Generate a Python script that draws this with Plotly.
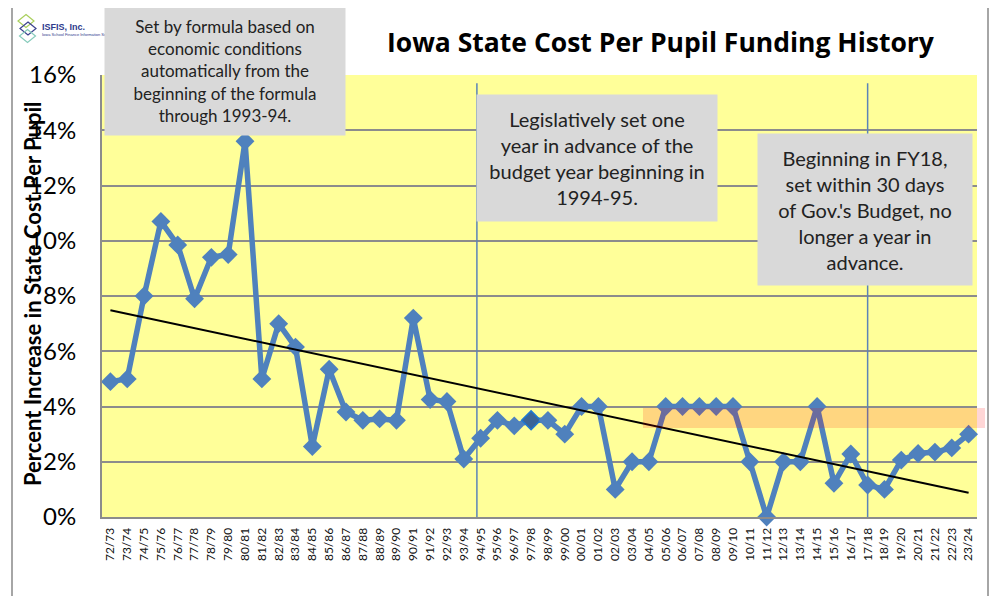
import numpy as np
import plotly.graph_objects as go

# ---------------- data ----------------
years = ["72/73","73/74","74/75","75/76","76/77","77/78","78/79","79/80","80/81","81/82",
         "82/83","83/84","84/85","85/86","86/87","87/88","88/89","89/90","90/91","91/92",
         "92/93","93/94","94/95","95/96","96/97","97/98","98/99","99/00","00/01","01/02",
         "02/03","03/04","04/05","05/06","06/07","07/08","08/09","09/10","10/11","11/12",
         "12/13","13/14","14/15","15/16","16/17","17/18","18/19","19/20","20/21","21/22",
         "22/23","23/24"]
pct_increase = [4.9, 5.0, 8.0, 10.7, 9.85, 7.9, 9.4, 9.5, 13.6, 5.0,
                7.0, 6.15, 2.55, 5.35, 3.8, 3.5, 3.55, 3.5, 7.2, 4.25,
                4.18, 2.1, 2.85, 3.5, 3.3, 3.5, 3.5, 3.0, 4.0, 4.0,
                1.0, 2.0, 2.0, 4.0, 4.0, 4.0, 4.0, 4.0, 2.0, 0.0,
                2.0, 2.0, 4.0, 1.22, 2.28, 1.16, 1.0, 2.06, 2.3, 2.35,
                2.5, 3.0]
y_ticks = [0, 2, 4, 6, 8, 10, 12, 14, 16]
y_tick_labels = ["0%", "2%", "4%", "6%", "8%", "10%", "12%", "14%", "16%"]
band_range = [3.22, 3.95]          # highlighted band (percent)
era_breaks = ["94/95", "17/18"]    # vertical divider years

title_text = "Iowa State Cost Per Pupil Funding History"
y_title = "Percent Increase in State Cost Per Pupil"
note1 = "Set by formula based on<br>economic conditions<br>automatically from the<br>beginning of the formula<br>through 1993-94."
note2 = "Legislatively set one<br>year in advance of the<br>budget year beginning in<br>1994-95."
note3 = "Beginning in FY18,<br>set within 30 days<br>of Gov.'s Budget, no<br>longer a year in<br>advance."

# ---------------- geometry helpers ----------------
# page body has an 8px margin; figure sized to fit the window exactly
OFF = 8
W, H = 998 - OFF, 596 - OFF
PLOT_L, PLOT_R, PLOT_T, PLOT_B = 102, 977, 75, 517   # screen px of plot area
L, T = PLOT_L - OFF, PLOT_T - OFF
R, B = W - (PLOT_R - OFF), H - (PLOT_B - OFF)
PW, PH = PLOT_R - PLOT_L, PLOT_B - PLOT_T
def px(x):
    return (x - PLOT_L) / PW
def py(y):
    return (PLOT_B - y) / PH

FONT = "Lato"
BLUE = "#4F81BD"

idx = np.arange(len(years))
slope, intercept = np.polyfit(idx, pct_increase, 1)
trend = slope * idx + intercept

marker_colors = [BLUE] * len(years)
marker_colors[years.index("97/98")] = "#3A6497"
marker_line = ["rgba(0,0,0,0)"] * len(years)
marker_line[years.index("97/98")] = "#1E78D2"

fig = go.Figure()
fig.add_trace(go.Scatter(
    x=years, y=pct_increase, mode="lines+markers",
    line=dict(color=BLUE, width=5.5),
    marker=dict(symbol="diamond", size=14.5, color=marker_colors,
                line=dict(color=marker_line, width=1.5)),
    cliponaxis=False, showlegend=False, hoverinfo="x+y"))
fig.add_trace(go.Scatter(
    x=years, y=trend, mode="lines",
    line=dict(color="black", width=2), showlegend=False, hoverinfo="skip"))

shapes = []
# outer chart border
shapes.append(dict(type="rect", xref="paper", yref="paper",
                   x0=px(12), x1=px(988), y0=py(7), y1=py(610),
                   line=dict(color="#A6A6A6", width=2), fillcolor="rgba(0,0,0,0)", layer="below"))
# era divider lines
offsets = [-0.22, 0.0]
for yr, off in zip(era_breaks, offsets):
    xi = years.index(yr) + off
    shapes.append(dict(type="line", xref="x", yref="y", x0=xi, x1=xi, y0=0, y1=15.7,
                       line=dict(color="#5B84B8", width=1.5), layer="between"))
# highlighted band
shapes.append(dict(type="rect", xref="paper", yref="paper",
                   x0=px(643), x1=px(985), y0=band_range[0] / 16, y1=band_range[1] / 16,
                   line=dict(width=0), fillcolor="rgba(255,0,0,0.16)", layer="above"))
# logo diamonds
def diamond(cx, cy, hw, hh):
    pts = [(cx, cy - hh), (cx + hw, cy), (cx, cy + hh), (cx - hw, cy)]
    return "M " + " L ".join(f"{px(a):.5f},{py(b):.5f}" for a, b in pts) + " Z"
for (cx, cy), col in zip([(26, 21), (28, 28.5), (27.5, 36)], ["#A9CF5B", "#3B428F", "#86CBBB"]):
    shapes.append(dict(type="path", xref="paper", yref="paper", path=diamond(cx, cy, 8, 6.5),
                       line=dict(color=col, width=1.2), fillcolor="rgba(0,0,0,0)"))

annotations = []
annotations.append(dict(xref="paper", yref="paper", x=px(661), y=py(42), text=f"<b>{title_text}</b>",
                        showarrow=False, xanchor="center", yanchor="middle",
                        font=dict(family="Open Sans", size=26.5, color="black")))
annotations.append(dict(xref="paper", yref="paper", x=px(32), y=py(294), text=f"<b>{y_title}</b>",
                        textangle=-90, showarrow=False, xanchor="center", yanchor="middle",
                        font=dict(family=FONT, size=22, color="black")))
# logo text
annotations.append(dict(xref="paper", yref="paper", x=px(40), y=py(27), text="<b>ISFIS, Inc.</b>",
                        showarrow=False, xanchor="left", yanchor="middle",
                        font=dict(family="Liberation Sans", size=9, color="#2E3A8C")))
annotations.append(dict(xref="paper", yref="paper", x=px(40), y=py(34.5),
                        text="Iowa School Finance Information Services",
                        showarrow=False, xanchor="left", yanchor="middle",
                        font=dict(family="Liberation Sans", size=4, color="#2E3A8C")))

def note(text, x0, x1, y0, y1, size, shift=0):
    annotations.append(dict(xref="paper", yref="paper", x=px((x0 + x1) / 2), y=py((y0 + y1) / 2),
                            text=text, showarrow=False, xanchor="center", yanchor="middle",
                            width=x1 - x0, height=y1 - y0, borderpad=0, bgcolor="#D9D9D9",
                            align="center", valign="middle", yshift=shift,
                            font=dict(family=FONT, size=size, color="#222222")))
note(note1, 105, 345, 10, 138, 17, shift=3)
note(note2, 477, 717, 95, 221, 20)
note(note3, 758, 972, 134, 285, 20)

fig.update_layout(
    width=W, height=H,
    margin=dict(l=L, r=R, t=T, b=B),
    paper_bgcolor="white", plot_bgcolor="#FFFF99",
    shapes=shapes, annotations=annotations,
    font=dict(family=FONT, color="black"),
    xaxis=dict(type="category", categoryorder="array", categoryarray=years,
               range=[-0.5, len(years) - 0.5], tickangle=-90,
               tickfont=dict(family=FONT, size=12, color="#111111"),
               showgrid=False, showline=True, linecolor="#8C8C8C", linewidth=2,
               ticks="", ticklabelstandoff=4, fixedrange=True),
    yaxis=dict(range=[0, 16], tickvals=y_ticks, ticktext=y_tick_labels,
               tickfont=dict(family=FONT, size=24, color="black"),
               showgrid=True, gridcolor="#8C8C8C", gridwidth=2,
               showline=True, linecolor="#8C8C8C", linewidth=2,
               zeroline=False, ticks="", ticklabelstandoff=19, fixedrange=True),
)

fig.write_html("out.html")
